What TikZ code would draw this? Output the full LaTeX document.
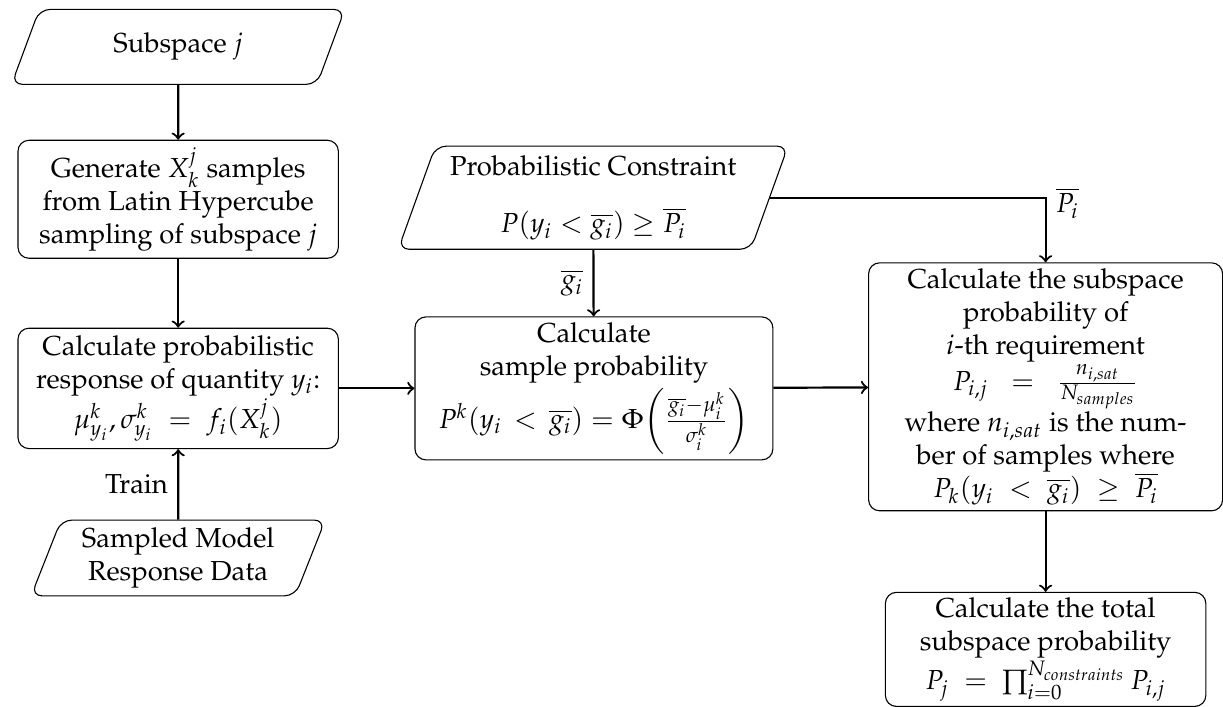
\documentclass[tikz,border=0pt]{standalone}
\usepackage[T1]{fontenc}
\usepackage{mathpazo}
\usepackage{amsmath}
\usepackage{amssymb}
\usepackage{xcolor}
\usepackage{tikz}
\usetikzlibrary{shapes.geometric}

\begin{document}
\begin{tikzpicture}[
  process/.style={draw, rounded corners, align=center, inner sep=2pt},
  io/.style={draw, trapezium, trapezium left angle=70, trapezium right angle=110,
    trapezium stretches=true, rounded corners, align=center, inner sep=2pt},
  flow/.style={->, thick}]
  \useasboundingbox (0,0) rectangle (15.65,-9.04);
  % left column
  \node[io, minimum width=4.29cm, minimum height=0.96cm] (sub) at (2.28,-0.60) {Subspace $j$};
  \node[process, minimum width=4.10cm, minimum height=1.51cm] (gen) at (2.28,-2.55)
    {Generate $X_k^j$ samples\\from Latin Hypercube\\sampling of subspace $j$};
  \node[process, minimum width=4.10cm, minimum height=1.54cm] (resp) at (2.28,-4.97)
    {Calculate probabilistic\\response of quantity $y_i$:\\$\mu_{y_i}^k,\sigma_{y_i}^k\;=\;f_i(X_k^j)$};
  \node[io, minimum width=3.78cm, minimum height=0.97cm] (data) at (2.28,-7.14)
    {Sampled Model\\Response Data};
  % middle column
  \node[io, minimum width=4.99cm, minimum height=1.32cm] (pc) at (7.59,-2.53)
    {Probabilistic Constraint\\[0.9em]$P(y_i<\overline{g_i})\geq\overline{P_i}$};
  \node[process, minimum width=4.58cm, minimum height=1.80cm] (samp) at (7.60,-4.97)
    {Calculate\\sample probability\\[1pt]$P^k(y_i\,<\,\overline{g_i})=\Phi\!\left(\frac{\overline{g_i}-\mu_i^k}{\sigma_i^k}\right)$};
  % right column
  \node[process, minimum width=4.53cm, minimum height=3.17cm] (subp) at (13.38,-4.95)
    {Calculate the subspace\\probability of\\$i$-th requirement\\$P_{i,j}\;\;=\;\;\frac{n_{i,sat}}{N_{samples}}$\\where $n_{i,sat}$ is the num-\\ber of samples where\\$P_k(y_i\;<\;\overline{g_i})\;\geq\;\overline{P_i}$};
  \node[process, minimum width=4.10cm, minimum height=1.42cm] (tot) at (13.38,-8.31)
    {Calculate the total\\subspace probability\\$P_j\;=\;\prod_{i=0}^{N_{constraints}}P_{i,j}$};

  \draw[flow] (sub) -- (gen);
  \draw[flow] (gen) -- (resp);
  \draw[flow] (data) -- node[left] (train) {Train} (resp);
  \draw[flow] (pc) -- node[left] (gbar) {$\overline{g_i}$} (samp);
  \draw[flow] (resp) -- (samp);
  \draw[flow] (samp) -- (subp);
  \draw[flow] (pc.east) -| node[pos=0.5, right, yshift=-2pt] (pbar) {$\overline{P_i}$} (subp.north);
  \draw[flow] (subp) -- (tot);
\end{tikzpicture}
\end{document}
